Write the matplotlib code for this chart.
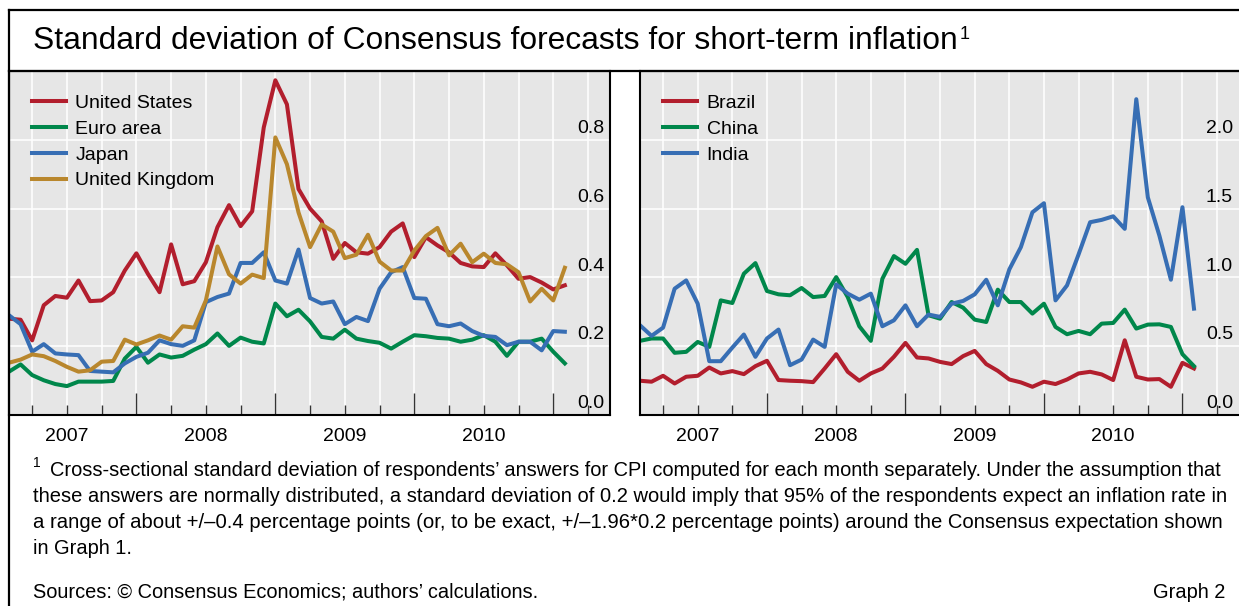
import matplotlib
matplotlib.use("Agg")
import matplotlib.pyplot as plt
import matplotlib.ticker as mticker
from matplotlib.lines import Line2D
import numpy as np

FAMILY = ['Liberation Sans', 'DejaVu Sans']
plt.rcParams['font.family'] = FAMILY

# months counted from Jan 2007 = 0; observations run Feb 2007 .. Feb 2011
months = np.arange(1, 50)
years = ['2007', '2008', '2009', '2010']
year_mid = [6, 18, 30, 42]

adv_names = ['United States', 'Euro area', 'Japan', 'United Kingdom']
us = [0.28, 0.277, 0.217, 0.319, 0.346, 0.341, 0.391, 0.331, 0.333, 0.357,
      0.42, 0.47, 0.41, 0.357, 0.496, 0.38, 0.389, 0.444, 0.546, 0.61,
      0.549, 0.592, 0.836, 0.973, 0.903, 0.657, 0.6, 0.563, 0.454, 0.5,
      0.473, 0.469, 0.488, 0.533, 0.557, 0.459, 0.517, 0.493, 0.473, 0.442,
      0.432, 0.43, 0.47, 0.435, 0.396, 0.401, 0.385, 0.365, 0.377]
euro = [0.126, 0.147, 0.116, 0.101, 0.09, 0.084, 0.097, 0.097, 0.097, 0.099,
        0.164, 0.198, 0.152, 0.176, 0.167, 0.172, 0.19, 0.206, 0.237, 0.201,
        0.225, 0.213, 0.208, 0.324, 0.287, 0.306, 0.272, 0.227, 0.222, 0.248,
        0.222, 0.215, 0.21, 0.193, 0.213, 0.232, 0.229, 0.224, 0.222, 0.213,
        0.219, 0.232, 0.213, 0.172, 0.213, 0.213, 0.222, 0.184, 0.15]
japan = [0.29, 0.264, 0.184, 0.206, 0.179, 0.176, 0.174, 0.128, 0.126, 0.124,
         0.15, 0.169, 0.181, 0.217, 0.206, 0.201, 0.217, 0.328, 0.343, 0.353,
         0.442, 0.442, 0.473, 0.391, 0.382, 0.481, 0.34, 0.324, 0.33, 0.264,
         0.285, 0.273, 0.367, 0.415, 0.43, 0.34, 0.338, 0.264, 0.258, 0.266,
         0.244, 0.23, 0.227, 0.203, 0.213, 0.213, 0.188, 0.244, 0.242]
uk = [0.152, 0.161, 0.176, 0.171, 0.157, 0.14, 0.126, 0.13, 0.155, 0.157,
      0.219, 0.205, 0.217, 0.231, 0.219, 0.258, 0.254, 0.333, 0.49, 0.409,
      0.382, 0.408, 0.398, 0.807, 0.729, 0.589, 0.488, 0.554, 0.533, 0.456,
      0.466, 0.524, 0.446, 0.42, 0.42, 0.478, 0.52, 0.544, 0.464, 0.498,
      0.444, 0.469, 0.442, 0.438, 0.415, 0.33, 0.367, 0.333, 0.428]

em_names = ['Brazil', 'China', 'India']
brazil = [0.249, 0.242, 0.285, 0.229, 0.278, 0.285, 0.345, 0.302, 0.319, 0.297,
          0.355, 0.394, 0.254, 0.249, 0.246, 0.239, 0.338, 0.442, 0.314, 0.249,
          0.302, 0.338, 0.423, 0.524, 0.418, 0.411, 0.386, 0.37, 0.428, 0.466,
          0.37, 0.321, 0.258, 0.237, 0.205, 0.242, 0.225, 0.258, 0.302, 0.314,
          0.295, 0.254, 0.543, 0.278, 0.258, 0.261, 0.205, 0.379, 0.338]
china = [0.539, 0.556, 0.556, 0.452, 0.459, 0.531, 0.495, 0.833, 0.814, 1.027,
         1.104, 0.901, 0.877, 0.87, 0.923, 0.857, 0.865, 1.002, 0.857, 0.645,
         0.539, 0.99, 1.155, 1.099, 1.2, 0.725, 0.7, 0.821, 0.78, 0.693,
         0.676, 0.911, 0.821, 0.821, 0.737, 0.809, 0.64, 0.587, 0.611, 0.587,
         0.664, 0.669, 0.766, 0.628, 0.657, 0.659, 0.64, 0.442, 0.355]
india = [0.652, 0.575, 0.635, 0.918, 0.978, 0.809, 0.391, 0.391, 0.49, 0.585,
         0.423, 0.556, 0.621, 0.362, 0.403, 0.548, 0.495, 0.949, 0.882, 0.838,
         0.882, 0.645, 0.688, 0.797, 0.645, 0.73, 0.713, 0.809, 0.829, 0.877,
         0.983, 0.797, 1.058, 1.22, 1.473, 1.539, 0.833, 0.942, 1.167, 1.401,
         1.418, 1.444, 1.353, 2.295, 1.582, 1.304, 0.983, 1.51, 0.773]

left_ticks = [0.0, 0.2, 0.4, 0.6, 0.8]
right_ticks = [0.0, 0.5, 1.0, 1.5, 2.0]

RED, GREEN, BLUE, GOLD = '#B21E2D', '#00874B', '#376EB4', '#B9872D'
BG = '#E6E6E6'

title = 'Standard deviation of Consensus forecasts for short-term inflation'
note_lines = [
    'Cross-sectional standard deviation of respondents\u2019 answers for CPI computed for each month separately. Under the assumption that',
    'these answers are normally distributed, a standard deviation of 0.2 would imply that 95% of the respondents expect an inflation rate in',
    'a range of about +/\u20130.4 percentage points (or, to be exact, +/\u20131.96*0.2 percentage points) around the Consensus expectation shown',
    'in Graph 1.',
]
sources = 'Sources: \u00a9 Consensus Economics; authors\u2019 calculations.'

W, H = 1239, 606
fig = plt.figure(figsize=(W / 100, H / 100), dpi=100)


def px_rect(x0, y0, x1, y1):
    return [x0 / W, 1 - y1 / H, (x1 - x0) / W, (y1 - y0) / H]


def panel(ax, series, names, colors, ymax, yticks, legend_x):
    ax.set_facecolor(BG)
    for vals, name, col in zip(series, names, colors):
        ax.plot(months, vals, color=col, lw=2.9, label=name)
    ax.set_xlim(1, 52.9)
    ax.set_ylim(0, ymax)
    ax.xaxis.set_major_locator(mticker.MultipleLocator(12))
    ax.xaxis.set_minor_locator(mticker.MultipleLocator(3))
    ax.set_yticks(yticks)
    ax.grid(which='both', axis='x', color='white', lw=1.1)
    ax.grid(which='major', axis='y', color='white', lw=1.1)
    ax.set_axisbelow(True)
    ax.tick_params(axis='x', which='major', direction='in', length=16,
                   width=1, color='#333333', labelbottom=False)
    ax.tick_params(axis='x', which='minor', direction='in', length=7.5,
                   width=1, color='#333333')
    ax.tick_params(axis='y', left=False, labelleft=False)
    for sp in ax.spines.values():
        sp.set_linewidth(1.5)
    for v in yticks:
        ax.annotate(f'{v:.1f}', xy=(1, v), xycoords=('axes fraction', 'data'),
                    xytext=(-4.3, 8.2), textcoords='offset points',
                    ha='right', va='center', fontsize=14)
    for yr, mid in zip(years, year_mid):
        ax.annotate(yr, xy=(mid, 0), xycoords=('data', 'axes fraction'),
                    xytext=(0, -15.5), textcoords='offset points',
                    ha='center', va='center', fontsize=14,
                    annotation_clip=False)
    ax.legend(loc='upper left', bbox_to_anchor=legend_x, frameon=False,
              fontsize=14, handlelength=1.75, handletextpad=0.5,
              labelspacing=0.42, borderpad=0, borderaxespad=0)


ax1 = fig.add_axes(px_rect(9, 71, 610, 415))
ax2 = fig.add_axes(px_rect(640, 71, 1239, 415))
panel(ax1, [us, euro, japan, uk], adv_names, [RED, GREEN, BLUE, GOLD],
      1.0, left_ticks, (22.5 / 601, 1 - 23.5 / 344))
panel(ax2, [brazil, china, india], em_names, [RED, GREEN, BLUE],
      2.5, right_ticks, (23 / 599, 1 - 23.5 / 344))
ax2.spines['right'].set_visible(False)

# outer frame
for xs, ys in [([9, 9], [10, H]), ([9, W], [10, 10]), ([9, W], [71, 71])]:
    fig.add_artist(Line2D([x / W for x in xs], [1 - y / H for y in ys],
                          color='black', lw=1.6, transform=fig.transFigure))

t = fig.text(33 / W, 1 - 41 / H, title, fontsize=22.9, va='center', ha='left')
renderer = fig.canvas.get_renderer()
bb = t.get_window_extent(renderer)
fig.text((bb.x1 + 2) / W, 1 - 26 / H, '1', fontsize=13, va='top', ha='left')

# footnote: the full lines of the original run flush to the right margin,
# so each of those lines gets its size nudged to span the same width
note_size = 14.4
right_px = 1225
fig.text(33 / W, 1 - 463 / H, '1', fontsize=10, va='center', ha='left')
for i, line in enumerate(note_lines):
    x0 = 50 if i == 0 else 33
    txt = fig.text(x0 / W, 1 - (470 + 26 * i) / H, line, fontsize=note_size,
                   va='center', ha='left')
    if i < 3:
        for _ in range(3):
            natural = txt.get_window_extent(renderer).width
            txt.set_fontsize(txt.get_fontsize() * (right_px - x0) / natural)

fig.text(33 / W, 1 - 592 / H, sources, fontsize=note_size, va='center', ha='left')
fig.text(right_px / W, 1 - 592 / H, 'Graph 2', fontsize=note_size, va='center', ha='right')

fig.savefig('out.png', dpi=100)
